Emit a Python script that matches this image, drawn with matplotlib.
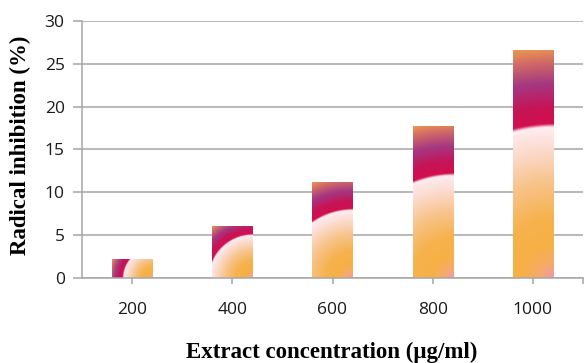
import numpy as np
import matplotlib
matplotlib.use("Agg")
import matplotlib.pyplot as plt

concentrations = ["200", "400", "600", "800", "1000"]
inhibition = [2.2, 6.0, 11.2, 17.7, 26.6]

# radial fill: distance from the bottom-right corner of a bar, as a fraction of its diagonal
stop_pos = [0.0, 0.06, 0.14, 0.26, 0.42, 0.54, 0.62, 0.652, 0.667, 0.74, 0.84, 0.94, 1.0]
stop_rgb = [(242, 150, 175), (246, 170, 110), (246, 176, 68), (246, 178, 78),
            (248, 196, 140), (251, 216, 198), (253, 230, 230), (255, 238, 240),
            (210, 15, 80), (198, 20, 86), (165, 55, 130), (212, 110, 100),
            (235, 155, 80)]

GRID = "#a6a6a6"

fig = plt.figure(figsize=(5.85, 3.63), dpi=100)
ax = fig.add_axes([82 / 585, 85 / 363, 501 / 585, 257 / 363])
ax.set_xlim(-0.5, 4.5)
ax.set_ylim(0, 30)

bar_w = 0.4
px_x = ax.bbox.width / 5
px_y = ax.bbox.height / 30
stops = np.array(stop_rgb) / 255.0


def radial_fill(w_px, h_px, ss=3):
    nx = max(int(w_px * ss), 2)
    ny = max(int(h_px * ss), 2)
    xs = (np.arange(nx) + 0.5) / nx * w_px
    ys = (np.arange(ny) + 0.5) / ny * h_px
    dx = w_px - xs[None, :]
    dy = ys[:, None]
    d = np.sqrt(dx ** 2 + dy ** 2) / np.hypot(w_px, h_px)
    img = np.empty((ny, nx, 3))
    for c in range(3):
        img[..., c] = np.interp(d, stop_pos, stops[:, c])
    return img


for i, v in enumerate(inhibition):
    img = radial_fill(bar_w * px_x, v * px_y)
    ax.imshow(img, extent=[i - bar_w / 2, i + bar_w / 2, 0, v], origin="lower",
              aspect="auto", interpolation="bilinear", zorder=2)

ax.set_xlim(-0.5, 4.5)
ax.set_ylim(0, 30)

ax.set_axisbelow(True)
ax.yaxis.grid(True, color=GRID, lw=1.1)
for s in ["top", "right"]:
    ax.spines[s].set_visible(False)
for s in ["left", "bottom"]:
    ax.spines[s].set_color(GRID)
    ax.spines[s].set_linewidth(1.1)

ax.set_yticks(range(0, 31, 5))
ax.set_xticks([0, 1, 2, 3, 4, 4.5])
ax.set_xticklabels(concentrations + [""])
ax.tick_params(axis="y", length=6.5, width=1.1, color=GRID, pad=6,
               labelsize=12.5, labelcolor="#1a1a1a")
ax.tick_params(axis="x", length=4.3, width=1.1, color=GRID, pad=13,
               labelsize=12.5, labelcolor="#1a1a1a")
for lab in ax.get_xticklabels() + ax.get_yticklabels():
    lab.set_family("Open Sans")

fig.text(20 / 585, 1 - 145 / 363, "Radical inhibition (%)", rotation=90,
         ha="center", va="center", family="Liberation Serif", weight="bold",
         fontsize=16.5)
fig.text(332 / 585, 1 - 352 / 363, "Extract concentration (\u03bcg/ml)",
         ha="center", va="center", family="Liberation Serif", weight="bold",
         fontsize=16.5)

fig.savefig("out.png", dpi=100)
